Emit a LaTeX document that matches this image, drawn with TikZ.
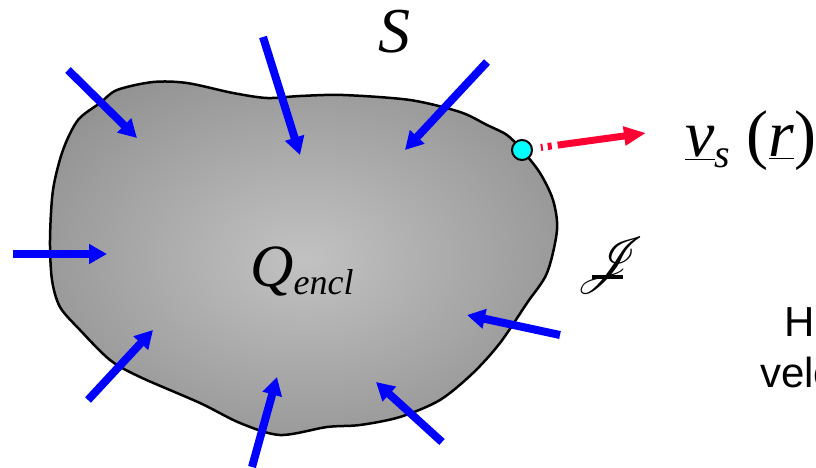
\documentclass[tikz,border=0pt]{standalone}
\usepackage{fontspec}
\setmainfont{Liberation Serif}
\newfontfamily\arialfont{Liberation Sans}
\usepackage{mathrsfs}
\usetikzlibrary{arrows.meta}

\definecolor{fluxblue}{RGB}{0,0,255}
\definecolor{velred}{RGB}{255,0,51}
\definecolor{dotcyan}{RGB}{0,255,255}
\pgfdeclareradialshading{blobshade}{\pgfpoint{0bp}{0bp}}{color(0bp)=(black!24); color(42bp)=(black!50); color(50bp)=(black!52)}

\begin{document}
\begin{tikzpicture}[x=1pt, y=-1pt,
    flux/.style={draw=fluxblue, line width=8pt, -{Triangle[length=18pt, width=19pt]}},
    vel/.style={draw=velred, line width=7pt, -{Triangle[length=22pt, width=18pt]},
      dash pattern=on 0pt off 8pt on 2pt off 5pt on 4pt off 6pt on 300pt},
    txt/.style={inner sep=0pt, anchor=base west}
  ]
    \useasboundingbox (0,0) rectangle (816,468);
    % enclosed region
    \shade[shading=blobshade, draw=black, line width=2.5pt] plot[smooth cycle] coordinates {
      (78,120) (100,103) (117,90) (153,82) (187,83) (233,93) (267,98) (300,96)
      (343,95) (410,100) (460,112) (487,125) (507,135) (522,150) (540,173)
      (553,200) (557,230) (547,273) (527,303) (500,343) (473,373) (440,400)
      (400,417) (360,425) (327,427) (280,435) (240,423) (200,403) (140,377)
      (110,360) (80,330) (60,307) (52,280) (50,240) (53,190) (63,150)};
    % inward arrows
    \foreach \tx/\ty/\hx/\hy in {68/70/137/138, 263/37/300/155, 487/62/405/150,
        13/254/107/254, 88/400/153/330, 252/467/277/377, 442/442/376/382,
        560/335/467/315}
      \draw[flux] (\tx,\ty) -- (\hx,\hy);
    % point on surface and its velocity
    \node[circle, draw=black, line width=2pt, fill=dotcyan, minimum size=20pt,
      inner sep=0pt] (pt) at (522,150) {};
    \coordinate (vtip) at (646,133);
    \draw[vel] (pt) -- (vtip);
    % labels
    \node[txt, font=\fontsize{64}{64}\selectfont\itshape] (surf) at (378,53) {S};
    \node[txt, font=\fontsize{60}{60}\selectfont\itshape] (qencl) at (250,286)
      {Q\raisebox{-8pt}{\fontsize{36}{36}\selectfont encl}};
    \node[txt, font=\fontsize{66}{66}\selectfont\itshape] (vlab) at (685,157)
      {\underline{v}\raisebox{-10pt}{\fontsize{40}{40}\selectfont s} {\upshape(}\underline{r}{\upshape)}};
    \node[inner sep=0pt] (jlab) at (611,265)
      {\scalebox{2.3}{\fontsize{24.88}{26}\selectfont$\mathscr{J}$}\llap{\rule[-1.5pt]{31pt}{3.5pt}\hspace{24pt}}};
    \node[txt, font=\arialfont\fontsize{42}{42}\selectfont] (hnote) at (784,336) {H};
    \node[txt, font=\arialfont\fontsize{42}{42}\selectfont] (vnote) at (760,387) {velo};
\end{tikzpicture}
\end{document}
